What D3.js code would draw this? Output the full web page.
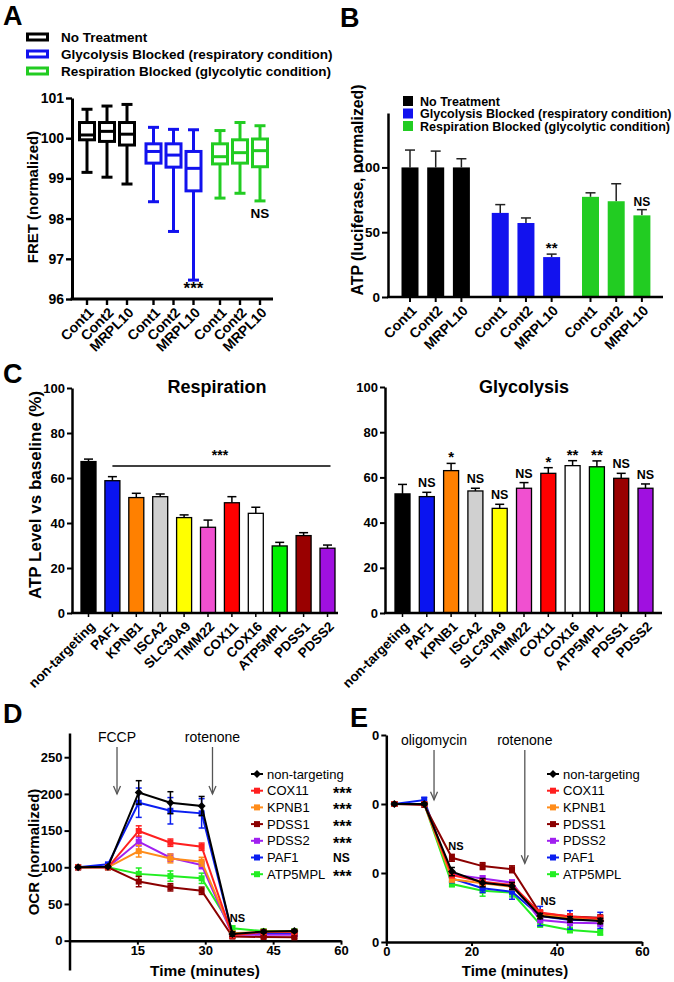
<!DOCTYPE html>
<html><head><meta charset="utf-8">
<script src="https://cdn.jsdelivr.net/npm/d3@7"></script>
<style>
body{margin:0;background:#fff}
svg{display:block}
</style></head><body>
<svg id="chart" width="674" height="982"></svg>
<script>
// ================= DATA =================
const conditionLabels = ["No Treatment", "Glycolysis Blocked (respiratory condition)", "Respiration Blocked (glycolytic condition)"];
const conditionColors = ["#000000", "#1212ee", "#22cc22"];

// Panel A (box plots, FRET normalized)
const aLabels = ["Cont1", "Cont2", "MRPL10", "Cont1", "Cont2", "MRPL10", "Cont1", "Cont2", "MRPL10"];
const aGroupIndex = [0, 0, 0, 1, 1, 1, 2, 2, 2];
const aWithinIndex = [0, 1, 2, 0, 1, 2, 0, 1, 2];
const aTicks = [96, 97, 98, 99, 100, 101];
const aWhiskerLow = [99.15, 99.03, 98.86, 98.42, 97.68, 96.47, 98.51, 98.63, 98.44];
const aQ1 = [99.96, 99.92, 99.83, 99.38, 99.28, 98.69, 99.36, 99.38, 99.29];
const aMedian = [100.08, 100.17, 100.10, 99.67, 99.58, 99.25, 99.54, 99.64, 99.69];
const aQ3 = [100.39, 100.39, 100.39, 99.86, 99.86, 99.67, 99.86, 99.96, 99.98];
const aWhiskerHigh = [100.72, 100.80, 100.84, 100.27, 100.22, 100.21, 100.19, 100.39, 100.31];
const aSignif = ["", "", "", "", "", "***", "", "", "NS"];

// Panel B (ATP luciferase)
const bLabels = ["Cont1", "Cont2", "MRPL10", "Cont1", "Cont2", "MRPL10", "Cont1", "Cont2", "MRPL10"];
const bGroupIndex = [0, 0, 0, 1, 1, 1, 2, 2, 2];
const bWithinIndex = [0, 1, 2, 0, 1, 2, 0, 1, 2];
const bTicks = [0, 50, 100];
const bValues = [100, 100, 100, 64.9, 57.1, 30.8, 77.3, 73.9, 63.0];
const bErrors = [13.4, 12.6, 6.7, 6.4, 3.9, 2.3, 3.1, 13.5, 4.4];
const bSignif = ["", "", "", "", "", "**", "", "", "NS"];

// Panel C
const cGenes = ["non-targeting", "PAF1", "KPNB1", "ISCA2", "SLC30A9", "TIMM22", "COX11", "COX16", "ATP5MPL", "PDSS1", "PDSS2"];
const cColors = ["#000000", "#0a14f0", "#ff8000", "#d0d0d0", "#ffff00", "#f050d0", "#ff0000", "#ffffff", "#00ee00", "#990000", "#a010e0"];
const cTicks = [0, 20, 40, 60, 80, 100];
const cRespiration = [67.3, 58.8, 51.3, 51.7, 42.4, 38.1, 49.0, 44.3, 29.8, 34.4, 28.8];
const cRespirationErr = [1.1, 1.8, 1.9, 1.2, 1.2, 3.2, 2.7, 2.7, 1.6, 1.3, 1.4];
const cRespirationSignif = "***";
const cGlycolysis = [52.7, 51.5, 63.0, 54.0, 46.3, 55.2, 61.8, 65.2, 64.7, 59.6, 55.2];
const cGlycolysisErr = [4.2, 1.9, 3.2, 1.2, 1.8, 2.5, 2.5, 2.2, 2.6, 2.2, 1.9];
const cGlycolysisSignif = ["", "NS", "*", "NS", "NS", "NS", "*", "**", "**", "NS", "NS"];

// Panel D (OCR)
const dTimes = [1.9, 8.5, 15.3, 22.3, 29.2, 36.0, 42.9, 49.7];
const dSeriesNames = ["non-targeting", "COX11", "KPNB1", "PDSS1", "PDSS2", "PAF1", "ATP5MPL"];
const dSeriesColors = ["#000000", "#ff1f1f", "#ff8c1a", "#8b0000", "#a020f0", "#0a1ef0", "#22ee22"];
const dSeriesSignif = ["", "***", "***", "***", "***", "NS", "***"];
const dNonTargeting = [100, 100.8, 202, 188, 183.5, 9, 12.3, 13.2];
const dCOX11 = [100, 100, 149.5, 133.5, 128, 7, 12, 12];
const dKPNB1 = [100, 100, 122, 112, 107.6, 10, 12, 12];
const dPDSS1 = [100, 100, 80.5, 72.7, 68, 5.5, 5, 4.5];
const dPDSS2 = [100, 100, 135, 113, 103, 8, 8, 8];
const dPAF1 = [100, 104, 188, 177, 173.5, 9, 10, 10];
const dATP5MPL = [100, 100, 91, 88, 85, 17, 13, 13];
const dNonTargetingErr = [1, 1.5, 16, 15, 13, 3, 2, 2];
const dCOX11Err = [1, 1, 7, 5, 5, 2, 2, 2];
const dKPNB1Err = [1, 1, 8, 6, 6, 2, 2, 2];
const dPDSS1Err = [1, 1, 7, 5, 5, 2, 1.5, 1.5];
const dPDSS2Err = [1, 1, 6, 5, 5, 2, 2, 2];
const dPAF1Err = [1, 2, 20, 18, 20, 3, 2, 2];
const dATP5MPLErr = [1, 1, 8, 7, 7, 3, 2, 2];
const dYTicks = [0, 50, 100, 150, 200, 250];
const dXTicks = [15, 30, 45, 60];
const dEvents = ["FCCP", "rotenone"];
const dEventTimes = [10.5, 31.6];
const dEventArrowEnd = [200, 200];
const dNSTime = 36.0;

// Panel E (ECAR)
const eTimes = [1.9, 8.9, 15.4, 22.6, 29.5, 36.1, 43.1, 50.2];
const eSeriesNames = ["non-targeting", "COX11", "KPNB1", "PDSS1", "PDSS2", "PAF1", "ATP5MPL"];
const eSeriesColors = ["#000000", "#ff1f1f", "#ff8c1a", "#8b0000", "#a020f0", "#0a1ef0", "#22ee22"];
const eNonTargeting = [100, 100, 51, 43, 40.6, 18.8, 16.4, 15.2];
const eCOX11 = [100, 100, 48.5, 43.7, 41.3, 21.3, 18.4, 17.1];
const eKPNB1 = [100, 100, 45.4, 42.5, 40, 19.6, 17.7, 16.4];
const ePDSS1 = [100, 99.3, 61, 55, 52.7, 20.8, 18.4, 17.6];
const ePDSS2 = [100, 100, 49, 46, 43, 16, 14, 13.5];
const ePAF1 = [100, 102.9, 46, 38.9, 36.5, 18.8, 16, 15.7];
const eATP5MPL = [100, 100, 42, 37.2, 35.7, 12.8, 8.7, 7];
const eNonTargetingErr = [1, 1, 3, 3, 2.5, 2, 2, 2];
const eCOX11Err = [1, 1, 2, 2, 2, 2, 2, 2];
const eKPNB1Err = [1, 1, 2, 2, 2, 2, 2, 2];
const ePDSS1Err = [1, 1, 2.5, 2.5, 2.5, 2, 2, 2];
const ePDSS2Err = [1, 1, 2, 2, 2, 2, 2, 2];
const ePAF1Err = [1, 2, 3, 3, 5.5, 7, 6.7, 5.8];
const eATP5MPLErr = [1, 1, 2, 4, 3, 2, 2, 2];
const eYTicks = [0, 50, 100, 150];
const eYTickLabels = ["0", "0", "0", "0"];
const eXTicks = [0, 20, 40, 60];
const eEvents = ["oligomycin", "rotenone"];
const eEventTimes = [11.2, 32.5];
const eEventArrowEnd = [103, 57];
const eNSTimes = [15.4, 36.1];

// ================= DRAWING =================
const FONT = '"Liberation Sans", Arial, Helvetica, sans-serif';
const svg = d3.select("#chart").attr("font-family", FONT);

function styleAxis(g, fs, sw) {
  g.attr("font-family", FONT);
  g.select(".domain").attr("stroke", "#000").attr("stroke-width", sw);
  g.selectAll(".tick line").attr("stroke", "#000").attr("stroke-width", sw * 0.8);
  g.selectAll(".tick text").attr("font-size", fs).attr("font-weight", "bold").attr("fill", "#000");
}
function text(x, y, s, o = {}) {
  return svg.append("text").attr("x", x).attr("y", y).text(s)
    .attr("font-size", o.fs || 13).attr("font-weight", o.fw || "bold")
    .attr("text-anchor", o.anchor || "start").attr("fill", o.fill || "#000");
}
function yTitle(x, cy, s, fs) {
  svg.append("text").attr("transform", `translate(${x},${cy}) rotate(-90)`)
    .attr("text-anchor", "middle").attr("font-size", fs).attr("font-weight", "bold").text(s);
}
function rotLabels(xs, labels, y0, fs) {
  svg.append("g").selectAll("text").data(labels).join("text")
    .attr("transform", (d, i) => `translate(${xs[i] + 4},${y0}) rotate(-45)`)
    .attr("text-anchor", "end").attr("dy", "0.35em")
    .attr("font-size", fs).attr("font-weight", "bold").text(d => d);
}
function hLine(x1, x2, y, sw) {
  svg.append("line").attr("x1", x1).attr("x2", x2).attr("y1", y).attr("y2", y)
    .attr("stroke", "#000").attr("stroke-width", sw);
}
function xTicks(xs, y, len, sw) {
  svg.append("g").selectAll("line").data(xs).join("line")
    .attr("x1", d => d).attr("x2", d => d).attr("y1", y).attr("y2", y + len)
    .attr("stroke", "#000").attr("stroke-width", sw);
}

// Panel letters
[["A", 3, 25], ["B", 340, 27], ["C", 3, 383], ["D", 3, 723], ["E", 350, 727]].forEach(([l, x, y]) =>
  text(x, y, l, { fs: 27 }));

// ---------- Panel A ----------
conditionLabels.forEach((lab, i) => {
  const cy = 37 + i * 17;
  svg.append("rect").attr("x", 27.5).attr("y", cy - 3).attr("width", 20).attr("height", 6)
    .attr("fill", "#fff").attr("stroke", conditionColors[i]).attr("stroke-width", 3);
  text(61, cy + 5, lab, { fs: 13.5 });
});
const aY = d3.scaleLinear().domain([96, 101]).range([299, 98]);
const aGroupX = d3.scalePoint().domain([0, 1, 2]).range([107, 240]);
const aInnerX = d3.scalePoint().domain([0, 1, 2]).range([-20, 20]);
const aX = aLabels.map((d, i) => aGroupX(aGroupIndex[i]) + aInnerX(aWithinIndex[i]));
styleAxis(svg.append("g").attr("transform", "translate(72,0)")
  .call(d3.axisLeft(aY).tickValues(aTicks).tickFormat(d3.format("d")).tickSize(6).tickPadding(2).tickSizeOuter(0)), 14, 3);
hLine(70.5, 273, aY(96), 3);
xTicks(aX, aY(96), 6, 2.4);
rotLabels(aX, aLabels, aY(96) + 11, 14);
yTitle(38, 197, "FRET (normalized)", 15);
const boxW = 15, capA = 11;
aLabels.forEach((d, i) => {
  const c = conditionColors[aGroupIndex[i]], x = aX[i];
  const g = svg.append("g").attr("stroke", c).attr("stroke-width", 3).attr("fill", "none");
  g.append("line").attr("x1", x).attr("x2", x).attr("y1", aY(aWhiskerHigh[i])).attr("y2", aY(aQ3[i]));
  g.append("line").attr("x1", x).attr("x2", x).attr("y1", aY(aQ1[i])).attr("y2", aY(aWhiskerLow[i]));
  g.append("line").attr("x1", x - capA / 2).attr("x2", x + capA / 2).attr("y1", aY(aWhiskerHigh[i])).attr("y2", aY(aWhiskerHigh[i]));
  g.append("line").attr("x1", x - capA / 2).attr("x2", x + capA / 2).attr("y1", aY(aWhiskerLow[i])).attr("y2", aY(aWhiskerLow[i]));
  g.append("rect").attr("x", x - boxW / 2).attr("y", aY(aQ3[i])).attr("width", boxW)
    .attr("height", aY(aQ1[i]) - aY(aQ3[i])).attr("fill", "#fff");
  g.append("line").attr("x1", x - boxW / 2).attr("x2", x + boxW / 2).attr("y1", aY(aMedian[i])).attr("y2", aY(aMedian[i]));
  if (aSignif[i]) {
    const star = aSignif[i].startsWith("*");
    text(x, aY(aWhiskerLow[i]) + (star ? 14 : 17), aSignif[i], { fs: star ? 17 : 13.5, anchor: "middle" });
  }
});

// ---------- Panel B ----------
conditionLabels.forEach((lab, i) => {
  const cy = 101 + i * 12.5;
  svg.append("rect").attr("x", 403).attr("y", cy - 5).attr("width", 10).attr("height", 10).attr("fill", conditionColors[i]);
  text(420, cy + 4.5, lab, { fs: 12.5 });
});
const bY = d3.scaleLinear().domain([0, 142]).range([297, 113]);
const bGroupX = d3.scalePoint().domain([0, 1, 2]).range([435.7, 616.2]);
const bInnerX = d3.scalePoint().domain([0, 1, 2]).range([-25.7, 25.7]);
const bX = bLabels.map((d, i) => bGroupX(bGroupIndex[i]) + bInnerX(bWithinIndex[i]));
styleAxis(svg.append("g").attr("transform", "translate(388,0)")
  .call(d3.axisLeft(bY).tickValues(bTicks).tickSize(6).tickPadding(2).tickSizeOuter(0)), 13.5, 2.5);
const bW = 17;
bValues.forEach((v, i) => {
  const x = bX[i], top = bY(v + bErrors[i]);
  svg.append("line").attr("x1", x).attr("x2", x).attr("y1", bY(v)).attr("y2", top).attr("stroke", "#222").attr("stroke-width", 1.5);
  svg.append("line").attr("x1", x - 5).attr("x2", x + 5).attr("y1", top).attr("y2", top).attr("stroke", "#222").attr("stroke-width", 1.5);
  svg.append("rect").attr("x", x - bW / 2).attr("y", bY(v)).attr("width", bW).attr("height", bY(0) - bY(v))
    .attr("fill", conditionColors[bGroupIndex[i]]);
  if (bSignif[i]) {
    const star = bSignif[i].startsWith("*");
    text(x, top - (star ? 1 : 4), bSignif[i], { fs: star ? 15 : 12, anchor: "middle" });
  }
});
hLine(387, 663, bY(0), 2.5);
xTicks(bX, bY(0), 5, 2);
rotLabels(bX, bLabels, bY(0) + 11, 14);
yTitle(363, 190, "ATP (luciferase, normalized)", 15.8);

// ---------- Panel C ----------
function cPanel(axisX, axisEnd, xRange, yTop, values, errs, title, titleX) {
  const y = d3.scaleLinear().domain([0, 100]).range([613, yTop]);
  const x = d3.scalePoint().domain(cGenes).range(xRange);
  styleAxis(svg.append("g").attr("transform", `translate(${axisX},0)`)
    .call(d3.axisLeft(y).tickValues(cTicks).tickSize(5).tickPadding(2).tickSizeOuter(0)), 13, 2.5);
  const w = 15;
  cGenes.forEach((gname, i) => {
    const cx = x(gname), top = y(values[i] + errs[i]);
    svg.append("line").attr("x1", cx).attr("x2", cx).attr("y1", y(values[i])).attr("y2", top).attr("stroke", "#000").attr("stroke-width", 1.5);
    svg.append("line").attr("x1", cx - 4.5).attr("x2", cx + 4.5).attr("y1", top).attr("y2", top).attr("stroke", "#000").attr("stroke-width", 1.5);
    svg.append("rect").attr("x", cx - w / 2).attr("y", y(values[i])).attr("width", w).attr("height", y(0) - y(values[i]))
      .attr("fill", cColors[i]).attr("stroke", "#000").attr("stroke-width", 1.3);
  });
  hLine(axisX - 1, axisEnd, y(0), 2.5);
  const xs = cGenes.map(g => x(g));
  xTicks(xs, y(0), 4, 1.5);
  rotLabels(xs, cGenes, y(0) + 11, 13.5);
  text(titleX, 393, title, { fs: 18, anchor: "middle" });
  return { x, y };
}
const cL = cPanel(72, 338, [88.5, 327.5], 388, cRespiration, cRespirationErr, "Respiration", 217);
yTitle(41, 495, "ATP Level vs baseline (%)", 17);
hLine(cL.x("PAF1"), cL.x("PDSS2") + 3, 466, 1.5);
text((cL.x("PAF1") + cL.x("PDSS2")) / 2, 460, cRespirationSignif, { fs: 14, anchor: "middle" });
const cR = cPanel(385, 662, [402.5, 645.5], 387, cGlycolysis, cGlycolysisErr, "Glycolysis", 524);
cGlycolysisSignif.forEach((s, i) => {
  if (!s) return;
  const star = s.startsWith("*");
  text(cR.x(cGenes[i]), cR.y(cGlycolysis[i] + cGlycolysisErr[i]) - (star ? 1 : 5), s, { fs: star ? 15 : 12.5, anchor: "middle" });
});

// ---------- Line panels ----------
function linePanel(o) {
  const { xS, yS, times, series, xTicksV, yTicksV, yTickFmt, axisX, axisY } = o;
  const gy = svg.append("g").attr("transform", `translate(${axisX},0)`)
    .call(d3.axisLeft(yS).tickValues(yTicksV).tickSize(5).tickPadding(2).tickSizeOuter(0).tickFormat(yTickFmt));
  styleAxis(gy, 13, 2.5);
  const gx = svg.append("g").attr("transform", `translate(0,${axisY})`)
    .call(d3.axisBottom(xS).tickValues(xTicksV).tickSize(4).tickPadding(1).tickSizeOuter(0));
  styleAxis(gx, 13, 2.5);
  const line = d3.line().x((d, i) => xS(times[i])).y(d => yS(d));
  series.slice().reverse().forEach(s => {
    const g = svg.append("g");
    s.values.forEach((v, i) => {
      const cx = xS(times[i]);
      g.append("line").attr("x1", cx).attr("x2", cx).attr("y1", yS(v - s.errs[i])).attr("y2", yS(v + s.errs[i]))
        .attr("stroke", s.color).attr("stroke-width", 1.5);
      [v - s.errs[i], v + s.errs[i]].forEach(e => g.append("line").attr("x1", cx - 3).attr("x2", cx + 3)
        .attr("y1", yS(e)).attr("y2", yS(e)).attr("stroke", s.color).attr("stroke-width", 1.5));
    });
    g.append("path").attr("d", line(s.values)).attr("fill", "none").attr("stroke", s.color).attr("stroke-width", 2);
    s.values.forEach((v, i) => marker(g, xS(times[i]), yS(v), s));
  });
}
function marker(g, x, y, s) {
  if (s.diamond) {
    g.append("path").attr("d", `M${x},${y - 4}L${x + 4},${y}L${x},${y + 4}L${x - 4},${y}Z`).attr("fill", s.color);
  } else {
    g.append("rect").attr("x", x - 3).attr("y", y - 3).attr("width", 6).attr("height", 6).attr("fill", s.color);
  }
}
function legend(x, y0, series, signif, sigX) {
  series.forEach((s, i) => {
    const cy = y0 + i * 16.7;
    const g = svg.append("g");
    g.append("line").attr("x1", x - 6).attr("x2", x + 6).attr("y1", cy).attr("y2", cy).attr("stroke", s.color).attr("stroke-width", 2);
    marker(g, x, cy, s);
    text(x + 10, cy + 4.6, s.name, { fs: 13, fw: "normal" });
    if (signif && signif[i]) text(sigX, cy + (signif[i] === "NS" ? 4.6 : 8), signif[i], { fs: signif[i] === "NS" ? 12 : 16 });
  });
}
function arrows(xS, yS, events, times, ends, textY) {
  events.forEach((ev, i) => {
    const x = xS(times[i]), yEnd = yS(ends[i]);
    text(x, textY, ev, { fs: 14, fw: "normal", anchor: "middle" });
    svg.append("line").attr("x1", x).attr("x2", x).attr("y1", textY + 5).attr("y2", yEnd).attr("stroke", "#555").attr("stroke-width", 1.3);
    svg.append("path").attr("d", `M${x - 3.5},${yEnd - 8}L${x},${yEnd}L${x + 3.5},${yEnd - 8}`)
      .attr("fill", "none").attr("stroke", "#555").attr("stroke-width", 1.3);
  });
}

// ---------- Panel D ----------
const dValues = [dNonTargeting, dCOX11, dKPNB1, dPDSS1, dPDSS2, dPAF1, dATP5MPL];
const dErrs = [dNonTargetingErr, dCOX11Err, dKPNB1Err, dPDSS1Err, dPDSS2Err, dPAF1Err, dATP5MPLErr];
const dSeries = dSeriesNames.map((n, i) => ({ name: n, color: dSeriesColors[i], values: dValues[i], errs: dErrs[i], diamond: i === 0 }));
const dX = d3.scaleLinear().domain([0, 60]).range([69.5, 341]);
const dY = d3.scaleLinear().domain([-40, 283]).range([970, 733]);
linePanel({ xS: dX, yS: dY, times: dTimes, series: dSeries, xTicksV: dXTicks, yTicksV: dYTicks, yTickFmt: d3.format("d"), axisX: 69.5, axisY: dY(0) });
yTitle(39, 852, "OCR (normalized)", 15);
text(205, 976, "Time (minutes)", { fs: 15.5, anchor: "middle" });
arrows(dX, dY, dEvents, dEventTimes, dEventArrowEnd, 742);
text(dX(dNSTime) + 5, 922, "NS", { fs: 11, anchor: "middle" });
legend(257, 774, dSeries, dSeriesSignif, 333);

// ---------- Panel E ----------
const eValues = [eNonTargeting, eCOX11, eKPNB1, ePDSS1, ePDSS2, ePAF1, eATP5MPL];
const eErrs = [eNonTargetingErr, eCOX11Err, eKPNB1Err, ePDSS1Err, ePDSS2Err, ePAF1Err, eATP5MPLErr];
const eSeries = eSeriesNames.map((n, i) => ({ name: n, color: eSeriesColors[i], values: eValues[i], errs: eErrs[i], diamond: i === 0 }));
const eX = d3.scaleLinear().domain([0, 60]).range([386.3, 642]);
const eY = d3.scaleLinear().domain([0, 150]).range([942, 735]);
linePanel({ xS: eX, yS: eY, times: eTimes, series: eSeries, xTicksV: eXTicks, yTicksV: eYTicks,
  yTickFmt: (d, i) => eYTickLabels[i], axisX: 386.3, axisY: eY(0) });
text(515, 976, "Time (minutes)", { fs: 15, anchor: "middle" });
arrows(eX, eY, eEvents, eEventTimes, eEventArrowEnd, 745);
text(eX(eNSTimes[0]) + 4, 850, "NS", { fs: 11, anchor: "middle" });
text(eX(eNSTimes[1]) + 8, 905, "NS", { fs: 11, anchor: "middle" });
legend(553, 774, eSeries, null, 0);
</script>
</body></html>
